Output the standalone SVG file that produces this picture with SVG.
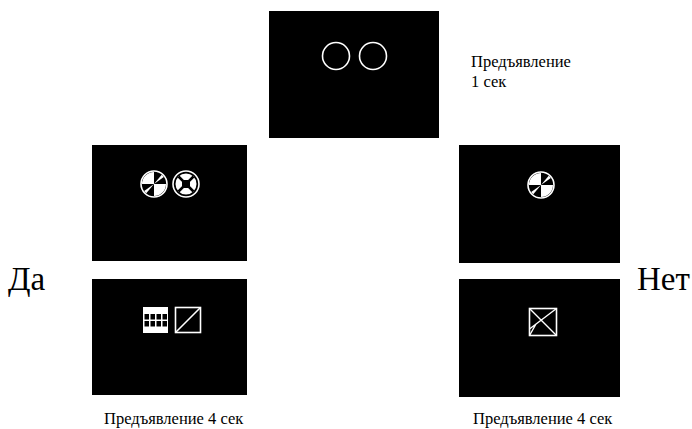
<svg xmlns="http://www.w3.org/2000/svg" width="692" height="429" viewBox="0 0 692 429">
<style>
.scr{fill:#000}
.ol{fill:none;stroke:#fff;stroke-width:1.6}
.w{fill:#fff}
.t{font-family:"Liberation Serif",serif;fill:#000}
</style>
<defs>
<g id="pie">
<circle r="13" fill="#000" stroke="#fff" stroke-width="1.6"/>
<path d="M0,0 L-12,0 A12,12 0 0 1 0,-12 Z" fill="#fff"/>
<path d="M0,0 L12,0 A12,12 0 0 1 0,12 Z" fill="#fff"/>
<path d="M0,0 L9.8,-6.9 A12,12 0 0 0 7.7,-9.2 Z" fill="#fff"/>
<path d="M0,0 L-9.8,6.9 A12,12 0 0 0 -7.7,9.2 Z" fill="#fff"/>
</g>
</defs>
<rect width="692" height="429" fill="#fff"/>
<g id="top">
<rect class="scr" x="269" y="11" width="170" height="127"/>
<circle class="ol" cx="336" cy="56" r="13.5"/>
<circle class="ol" cx="373" cy="56" r="13.5"/>
</g>
<g id="left-top">
<rect class="scr" x="92" y="145" width="155" height="116"/>
<use href="#pie" x="154" y="184"/>
<circle cx="186" cy="184" r="13" fill="#000" stroke="#fff" stroke-width="1.6"/>
<circle cx="186" cy="184" r="10.5" fill="#fff"/>
<path d="M178.5,176.5 L193.5,191.5 M193.5,176.5 L178.5,191.5" stroke="#000" stroke-width="2.5"/>
<rect x="182" y="180" width="8" height="8" fill="#000"/>
</g>
<g id="left-bottom">
<rect class="scr" x="92" y="279" width="155" height="116"/>
<rect class="w" x="143" y="307" width="25" height="26"/>
<g fill="#000">
<rect x="144.5" y="314" width="4.5" height="5.5"/><rect x="150.5" y="314" width="4.5" height="5.5"/><rect x="156.5" y="314" width="4.5" height="5.5"/><rect x="162.5" y="314" width="4.5" height="5.5"/>
<rect x="144.5" y="321" width="4.5" height="5.5"/><rect x="150.5" y="321" width="4.5" height="5.5"/><rect x="156.5" y="321" width="4.5" height="5.5"/><rect x="162.5" y="321" width="4.5" height="5.5"/>
</g>
<rect class="ol" x="175.5" y="307.5" width="25" height="25"/>
<line x1="175.5" y1="332.5" x2="200.5" y2="307.5" stroke="#fff" stroke-width="1.6"/>
</g>
<g id="right-top">
<rect class="scr" x="459" y="145" width="161" height="118"/>
<use href="#pie" x="541" y="185"/>
</g>
<g id="right-bottom">
<rect class="scr" x="459" y="279" width="161" height="118"/>
<rect class="ol" x="529.5" y="308.5" width="27" height="27"/>
<path d="M529.5,308.5 L556.5,335.5 M556.5,308.5 L529.5,329 M536,324 L529.5,335.5" stroke="#fff" stroke-width="1.4" fill="none"/>
</g>
<g id="labels">
<text class="t" x="471" y="67" font-size="16.5">Предъявление</text>
<text class="t" x="471" y="87" font-size="16.5">1 сек</text>
<text class="t" x="8" y="290" font-size="33">Да</text>
<text class="t" x="637" y="290" font-size="33">Нет</text>
<text class="t" x="104" y="424" font-size="16.5">Предъявление 4 сек</text>
<text class="t" x="473" y="424" font-size="16.5">Предъявление 4 сек</text>
</g>
</svg>
